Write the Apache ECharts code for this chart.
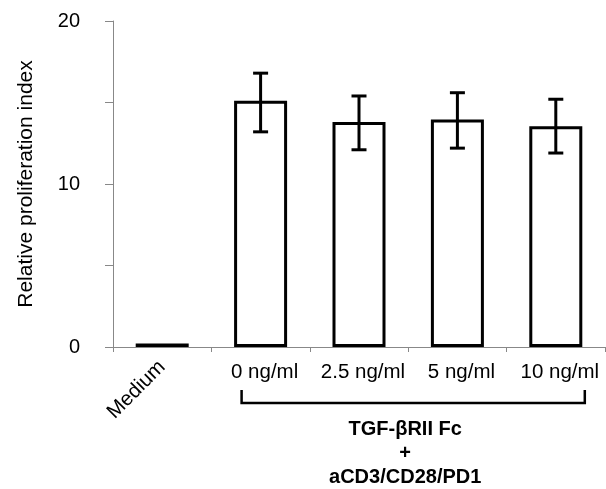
<!DOCTYPE html>
<html>
<head>
<meta charset="utf-8">
<script src="https://cdn.jsdelivr.net/npm/echarts@6/dist/echarts.min.js"></script>
<style>
html,body{margin:0;padding:0;background:#fff;}
#chart{width:606px;height:489px;}
</style>
</head>
<body>
<div id="chart"></div>
<script>
// ---- data ----
const categories = ['Medium', '0 ng/ml', '2.5 ng/ml', '5 ng/ml', '10 ng/ml'];
const values = [0.22, 15.1, 13.8, 13.95, 13.55];
const errLow = [null, 13.2, 12.1, 12.2, 11.9];
const errHigh = [null, 16.8, 15.4, 15.6, 15.2];
const yTickLabels = [0, 10, 20];
const groupTitle = ['TGF-βRII Fc', '+', 'aCD3/CD28/PD1'];

const FONT = '"Liberation Sans", Arial, sans-serif';
const chart = echarts.init(document.getElementById('chart'));

const barData = values.map((v, i) => i === 0
  ? { value: v, itemStyle: { color: '#000', borderWidth: 0 } }
  : v);
const errData = [];
values.forEach((v, i) => {
  if (errLow[i] != null) errData.push([i, errLow[i], errHigh[i]]);
});

chart.setOption({
  animation: false,
  backgroundColor: '#fff',
  grid: { left: 113, right: 1, top: 21, bottom: 142, containLabel: false },
  xAxis: [{
    type: 'category',
    data: categories,
    axisLine: { lineStyle: { color: '#888', width: 1 } },
    axisTick: { show: true, length: 5, interval: 0, lineStyle: { color: '#888' } },
    axisLabel: {
      margin: 15, color: '#000', fontSize: 20.5, fontFamily: FONT,
      interval: 0, hideOverlap: false, padding: [0, 0, 0, 8],
      formatter: (v) => v === 'Medium' ? '' : v
    }
  }, {
    type: 'category',
    data: categories,
    position: 'bottom',
    axisLine: { show: false },
    axisTick: { show: false },
    axisLabel: {
      margin: 17, rotate: 45, color: '#000', fontSize: 20.5, fontFamily: FONT,
      interval: 0,
      formatter: (v) => v === 'Medium' ? v : ''
    }
  }],
  yAxis: {
    type: 'value',
    min: 0, max: 20, interval: 5,
    splitLine: { show: false },
    axisLine: { show: true, lineStyle: { color: '#888', width: 1 } },
    axisTick: { show: true, length: 8, lineStyle: { color: '#888' } },
    axisLabel: {
      margin: 33, color: '#000', fontSize: 20, fontFamily: FONT,
      formatter: (v) => yTickLabels.indexOf(v) >= 0 ? String(v) : ''
    },
    name: 'Relative proliferation index',
    nameLocation: 'middle',
    nameGap: 76,
    nameTextStyle: { color: '#000', fontSize: 21, fontFamily: FONT }
  },
  series: [{
    type: 'bar',
    data: barData,
    barWidth: 53,
    itemStyle: { color: '#fff', borderColor: '#000', borderWidth: 3 },
    z: 2
  }, {
    type: 'custom',
    data: errData,
    encode: { x: 0, y: [1, 2] },
    z: 3,
    renderItem: function (params, api) {
      const x = api.value(0);
      const lo = api.coord([x, api.value(1)]);
      const hi = api.coord([x, api.value(2)]);
      const hw = 7.5;
      const st = { stroke: '#000', lineWidth: 3 };
      return {
        type: 'group',
        children: [
          { type: 'line', shape: { x1: lo[0], y1: lo[1], x2: hi[0], y2: hi[1] }, style: st },
          { type: 'line', shape: { x1: hi[0] - hw, y1: hi[1], x2: hi[0] + hw, y2: hi[1] }, style: st },
          { type: 'line', shape: { x1: lo[0] - hw, y1: lo[1], x2: lo[0] + hw, y2: lo[1] }, style: st }
        ]
      };
    }
  }]
});

// bracket and group title under categories 1..4
const p1 = chart.convertToPixel({ xAxisIndex: 0 }, categories[1]);
const p4 = chart.convertToPixel({ xAxisIndex: 0 }, categories[4]);
const bx1 = p1 - 19, bx2 = p4 + 29;
const by = 403, byTop = 390;
const cx = (p1 + p4) / 2 - 3;
chart.setOption({
  graphic: [
    {
      type: 'polyline',
      shape: { points: [[bx1, byTop], [bx1, by], [bx2, by], [bx2, byTop]] },
      style: { stroke: '#000', lineWidth: 2.5, fill: null }
    },
    ...groupTitle.map((t, i) => ({
      type: 'text',
      x: cx, y: 429 + i * 24,
      style: {
        text: t, fill: '#000', font: 'bold 20px ' + FONT,
        textAlign: 'center', textVerticalAlign: 'middle'
      }
    }))
  ]
});
</script>
</body>
</html>
